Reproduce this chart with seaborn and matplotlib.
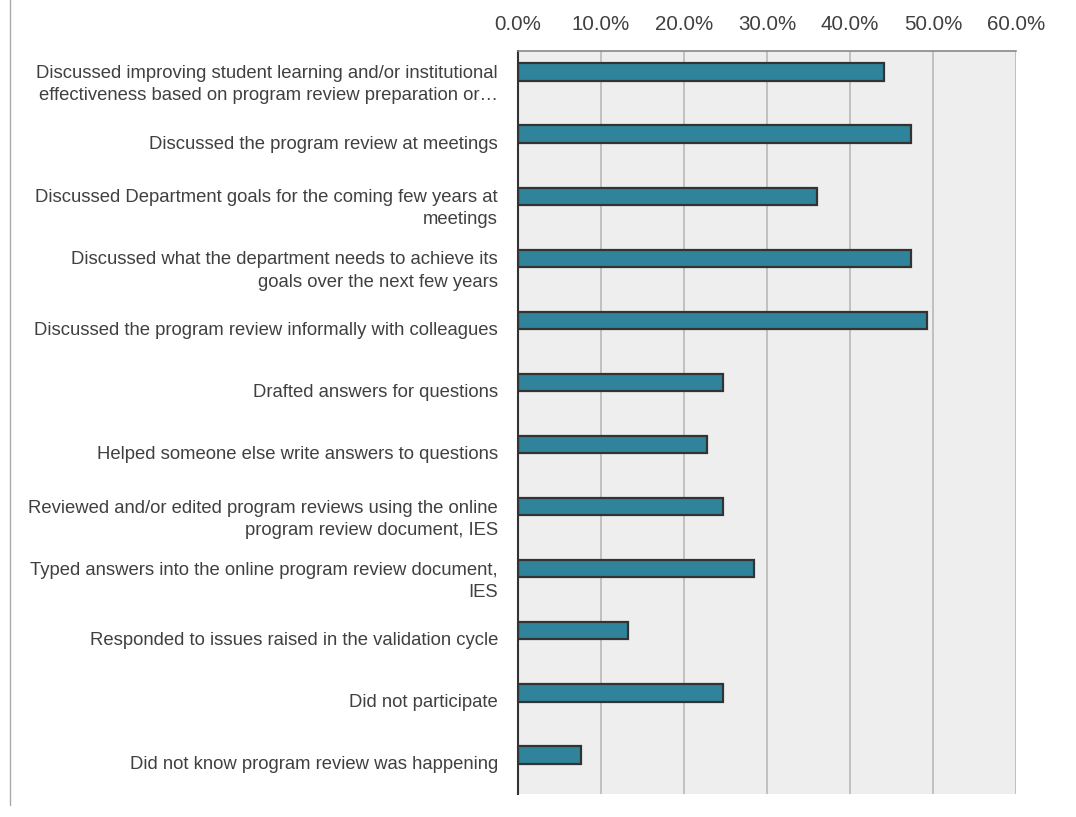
import matplotlib
matplotlib.use("Agg")
import matplotlib.pyplot as plt
import matplotlib.transforms as mtransforms
from matplotlib import font_manager
import seaborn as sns
import pandas as pd

categories = [
    "Discussed improving student learning and/or institutional\neffectiveness based on program review preparation or…",
    "Discussed the program review at meetings",
    "Discussed Department goals for the coming few years at\nmeetings",
    "Discussed what the department needs to achieve its\ngoals over the next few years",
    "Discussed the program review informally with colleagues",
    "Drafted answers for questions",
    "Helped someone else write answers to questions",
    "Reviewed and/or edited program reviews using the online\nprogram review document, IES",
    "Typed answers into the online program review document,\nIES",
    "Responded to issues raised in the validation cycle",
    "Did not participate",
    "Did not know program review was happening",
]
values = [44.1, 47.3, 36.0, 47.3, 49.3, 24.7, 22.8, 24.7, 28.4, 13.3, 24.7, 7.6]
xticks = [0, 10, 20, 30, 40, 50, 60]
xtick_labels = ["0.0%", "10.0%", "20.0%", "30.0%", "40.0%", "50.0%", "60.0%"]

sns.set_theme(style="white")
names = {f.name for f in font_manager.fontManager.ttflist}
if "Liberation Sans Narrow" in names:
    fam = ["Liberation Sans Narrow", "DejaVu Sans"]
    fs = 15.5
    fx = 16
else:
    fam = ["Liberation Sans", "DejaVu Sans"]
    fs = 13.3
    fx = 14.8
plt.rcParams["font.family"] = fam

df = pd.DataFrame({"cat": categories, "val": values})

fig = plt.figure(figsize=(10.76, 8.17), dpi=100)
ax = fig.add_axes([518 / 1076, 1 - 794 / 817, (1016 - 518) / 1076, (794 - 51) / 817])
ax.set_facecolor("#eeeeee")

sns.barplot(data=df, x="val", y="cat", orient="h", color="#2f849c", width=0.28,
            edgecolor="#333333", linewidth=1.6, saturation=1, ax=ax)

ax.set_xlim(0, 60)
ax.set_ylim(11.63, -0.34)
ax.set_xticks(xticks)
ax.set_xticklabels(xtick_labels)
ax.xaxis.tick_top()
ax.tick_params(axis="x", length=0, pad=12, labelsize=fx, labelcolor="#404040")
ax.tick_params(axis="y", length=0, pad=14.4, labelsize=fs, labelcolor="#404040")
for lab in ax.get_yticklabels():
    lab.set_multialignment("right")
    lab.set_linespacing(1.4)
    lab.set_transform(lab.get_transform() + mtransforms.ScaledTranslation(0, -8 / 100, fig.dpi_scale_trans))
ax.set_xlabel("")
ax.set_ylabel("")
ax.grid(axis="x", color="#b8b8b8", linewidth=1.2)
ax.set_axisbelow(True)
for s in ["right", "bottom"]:
    ax.spines[s].set_visible(False)
ax.spines["top"].set_color("#888888")
ax.spines["top"].set_linewidth(1.2)
ax.spines["left"].set_color("#333333")
ax.spines["left"].set_linewidth(1.5)

fig.add_artist(plt.Line2D([10 / 1076, 10 / 1076], [1, 1 - 805 / 817], transform=fig.transFigure,
                          color="#aaaaaa", linewidth=1))

fig.savefig("out.png", dpi=100, facecolor="white")
